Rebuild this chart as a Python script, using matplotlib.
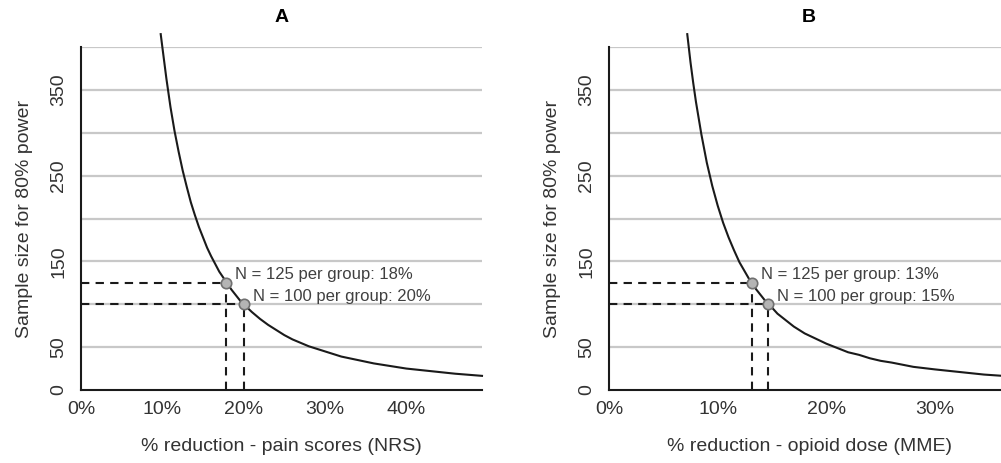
import matplotlib
matplotlib.use("Agg")
import matplotlib.pyplot as plt
from matplotlib.ticker import FuncFormatter

plt.rcParams['font.family'] = ['Liberation Sans', 'DejaVu Sans']

# Panel A: pain scores (NRS)
A_REDUCTION = [0.098, 0.10, 0.105, 0.11, 0.115, 0.12, 0.125, 0.13, 0.135, 0.14,
               0.145, 0.15, 0.155, 0.16, 0.165, 0.17, 0.175, 0.18, 0.185, 0.19,
               0.195, 0.20, 0.21, 0.22, 0.23, 0.24, 0.25, 0.26, 0.27, 0.28,
               0.30, 0.32, 0.34, 0.36, 0.38, 0.40, 0.43, 0.46, 0.493]
A_SAMPLE = [415, 400, 363, 330, 302, 278, 256, 237, 219, 204,
            190, 178, 166, 156, 147, 138, 131, 124, 117, 111,
            105, 100, 91, 83, 76, 70, 64, 59, 55, 51,
            45, 39, 35, 31, 28, 25, 22, 19, 16.5]
A_POINTS_X = [0.178, 0.20]
A_POINTS_N = [125, 100]
A_LABELS = ["N = 125 per group: 18%", "N = 100 per group: 20%"]

# Panel B: opioid dose (MME)
B_REDUCTION = [0.072, 0.075, 0.0775, 0.08, 0.085, 0.09, 0.095, 0.10, 0.105, 0.11,
               0.115, 0.12, 0.125, 0.13, 0.135, 0.14, 0.145, 0.15, 0.155, 0.16,
               0.165, 0.17, 0.175, 0.18, 0.19, 0.20, 0.21, 0.22, 0.23, 0.24,
               0.25, 0.26, 0.27, 0.28, 0.30, 0.315, 0.33, 0.345, 0.368]
B_SAMPLE = [415, 382, 358, 336, 298, 265, 238, 215, 195, 178,
            163, 149, 138, 127, 118, 110, 102, 96, 89, 84,
            79, 74, 70, 66, 60, 54, 49, 44, 41, 37,
            34, 32, 29.5, 27, 24, 22, 20, 18, 16]
B_POINTS_X = [0.132, 0.146]
B_POINTS_N = [125, 100]
B_LABELS = ["N = 125 per group: 13%", "N = 100 per group: 15%"]

Y_TICKS = [0, 50, 150, 250, 350]
GRID_Y = [50, 100, 150, 200, 250, 300, 350, 400]

W, H = 1001, 463
fig = plt.figure(figsize=(W / 100, H / 100), dpi=100)


def panel(rect, title, xlabel, xmax, xticks, xs, ys, px, pn, labels, label_dx):
    ax = fig.add_axes(rect)
    ax.set_xlim(0, xmax)
    ax.set_ylim(0, 400)
    for g in GRID_Y:
        ax.axhline(g, color='#c8c8c8', lw=1.6, zorder=0)
    ax.plot(xs, ys, color='#1a1a1a', lw=1.5, clip_on=False, zorder=3,
            solid_joinstyle='round')
    for x, n in zip(px, pn):
        ax.plot([0, x], [n, n], color='#1a1a1a', lw=1.5, ls=(0, (4, 3)), zorder=2)
        ax.plot([x, x], [0, n], color='#1a1a1a', lw=1.5, ls=(0, (4, 3)), zorder=2)
    ax.plot(px, pn, 'o', ms=7.5, mfc='#b4b4b4', mec='#707070', mew=1.2, zorder=4)
    for x, n, lab in zip(px, pn, labels):
        ax.annotate(lab, (x, n), xytext=(label_dx, 8), textcoords='offset pixels',
                    fontsize=12, color='#404040', ha='left', va='center', zorder=5)
    for s in ['top', 'right']:
        ax.spines[s].set_visible(False)
    for s in ['left', 'bottom']:
        ax.spines[s].set_linewidth(1.5)
        ax.spines[s].set_color('#1a1a1a')
    ax.set_xticks(xticks)
    ax.xaxis.set_major_formatter(FuncFormatter(lambda v, p: "%d%%" % round(v * 100)))
    ax.set_yticks(Y_TICKS)
    ax.tick_params(length=0, labelsize=14, colors='#333333')
    ax.tick_params(axis='x', pad=8)
    ax.tick_params(axis='y', pad=10)
    for t in ax.get_yticklabels():
        t.set_rotation(90)
        t.set_va('center')
    ax.set_xlabel(xlabel, fontsize=14, color='#333333', labelpad=14)
    ax.set_ylabel("Sample size for 80% power", fontsize=14, color='#333333', labelpad=12)
    ax.set_title(title, fontsize=14, fontweight='bold', pad=18)
    return ax


bottom = 1 - 390 / H
top = 1 - 47 / H
panel([81 / W, bottom, (482 - 81) / W, top - bottom], "A",
      "% reduction - pain scores (NRS)", 0.493, [0, 0.1, 0.2, 0.3, 0.4],
      A_REDUCTION, A_SAMPLE, A_POINTS_X, A_POINTS_N, A_LABELS, 9)
panel([609 / W, bottom, (1009 - 609) / W, top - bottom], "B",
      "% reduction - opioid dose (MME)", 0.368, [0, 0.1, 0.2, 0.3],
      B_REDUCTION, B_SAMPLE, B_POINTS_X, B_POINTS_N, B_LABELS, 9)

fig.savefig("out.png", dpi=100)
